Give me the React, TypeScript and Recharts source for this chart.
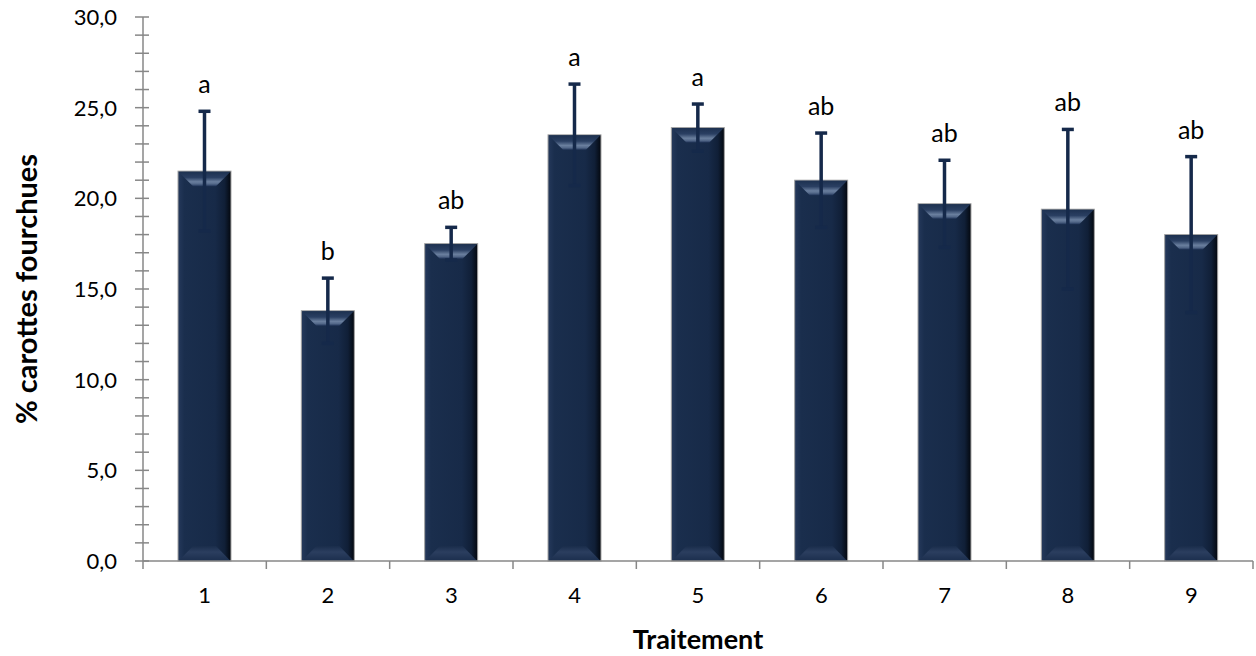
import React from 'react';
import { BarChart, Bar, XAxis, YAxis, ErrorBar, Label } from 'recharts';

const traitements = ['1', '2', '3', '4', '5', '6', '7', '8', '9'];
const fourchues = [21.5, 13.8, 17.5, 23.5, 23.9, 21.0, 19.7, 19.4, 18.0];
const ecartType = [3.3, 1.8, 0.9, 2.8, 1.3, 2.6, 2.4, 4.4, 4.3];
const lettres = ['a', 'b', 'ab', 'a', 'a', 'ab', 'ab', 'ab', 'ab'];
const yTicks = [0, 1, 2, 3, 4, 5, 6, 7, 8, 9, 10, 11, 12, 13, 14, 15, 16, 17, 18, 19, 20, 21, 22, 23, 24, 25, 26, 27, 28, 29, 30];

const data = traitements.map((t, i) => ({
  name: t,
  value: fourchues[i],
  sd: ecartType[i],
  letter: lettres[i],
}));

const W = 1256;
const H = 656;
const MARGIN = { top: 17, right: 3, bottom: 0, left: 0 };
const Y_AXIS_W = 143;
const X_AXIS_H = 95;
const PLOT_W = W - MARGIN.left - MARGIN.right - Y_AXIS_W;
const BAND = PLOT_W / traitements.length;

const AXIS_COLOR = '#878787';
const FONT = 'Lato, "Open Sans", sans-serif';
const BAR_DARK = '#172a48';

const BevelBar = (props: any) => {
  const { x, y, width, height, payload } = props;
  if (!height || height <= 0) return null;
  const pxPerUnit = height / payload.value;
  const capY = y - payload.sd * pxPerUnit;
  const b = 15;
  return (
    <g>
      <rect x={x} y={y} width={width} height={height} fill="url(#barBody)" stroke="#a3a3a3" strokeWidth={1} />
      <polygon
        points={`${x + 0.5},${y + 0.5} ${x + width - 0.5},${y + 0.5} ${x + width - b},${y + b} ${x + b},${y + b}`}
        fill="url(#barTop)"
      />
      <polygon
        points={`${x + 0.5},${y + height} ${x + width - 0.5},${y + height} ${x + width - b},${y + height - b} ${x + b},${y + height - b}`}
        fill="url(#barBottom)"
      />
      <text
        x={x + width / 2}
        y={capY - 18}
        textAnchor="middle"
        fontFamily={FONT}
        fontSize={25}
        fill="#000"
      >
        {payload.letter}
      </text>
    </g>
  );
};

const YTick = (props: any) => {
  const { x, y, payload } = props;
  const v = payload.value;
  const major = v % 5 === 0;
  return (
    <g>
      <line x1={x - 8} x2={x + 6} y1={y} y2={y} stroke={AXIS_COLOR} strokeWidth={1.5} />
      {major && (
        <text x={x - 26} y={y + 8} textAnchor="end" fontFamily={FONT} fontSize={22} fill="#000">
          {v.toFixed(1).replace('.', ',')}
        </text>
      )}
    </g>
  );
};

const XTick = (props: any) => {
  const { x, y, payload, index } = props;
  const last = index === traitements.length - 1;
  return (
    <g>
      <line x1={x - BAND / 2} x2={x - BAND / 2} y1={y} y2={y + 8} stroke={AXIS_COLOR} strokeWidth={1.5} />
      {last && <line x1={x + BAND / 2} x2={x + BAND / 2} y1={y} y2={y + 8} stroke={AXIS_COLOR} strokeWidth={1.5} />}
      <text x={x} y={y + 42} textAnchor="middle" fontFamily={FONT} fontSize={22} fill="#000">
        {payload.value}
      </text>
    </g>
  );
};

export default function App() {
  return (
    <div style={{ position: 'relative', width: W, height: H, background: '#fff' }}>
      <style>{'body{margin:0}'}</style>
      <svg width={0} height={0} style={{ position: 'absolute' }}>
        <defs>
          <linearGradient id="barBody" x1="0" y1="0" x2="1" y2="0">
            <stop offset="0%" stopColor="#25395b" />
            <stop offset="12%" stopColor="#1a2e4d" />
            <stop offset="70%" stopColor={BAR_DARK} />
            <stop offset="88%" stopColor="#101f37" />
            <stop offset="100%" stopColor="#03070e" />
          </linearGradient>
          <linearGradient id="barTop" x1="0" y1="0" x2="0" y2="1">
            <stop offset="0%" stopColor="#1d3150" />
            <stop offset="40%" stopColor="#2a3f62" />
            <stop offset="70%" stopColor="#6a7f9e" />
            <stop offset="85%" stopColor="#54698a" />
            <stop offset="100%" stopColor="#22365a" />
          </linearGradient>
          <linearGradient id="barBottom" x1="0" y1="1" x2="0" y2="0">
            <stop offset="0%" stopColor="#1b2e4d" />
            <stop offset="60%" stopColor="#2b3e5f" />
            <stop offset="100%" stopColor="#1a2d4b" />
          </linearGradient>
        </defs>
      </svg>
      <BarChart width={W} height={H} data={data} margin={MARGIN} barSize={53}>
        <XAxis
          dataKey="name"
          height={X_AXIS_H}
          axisLine={{ stroke: AXIS_COLOR, strokeWidth: 1.5 }}
          tickLine={false}
          tickSize={0}
          tickMargin={0}
          tick={<XTick />}
          interval={0}
        >
          <Label
            content={() => (
              <text
                x={MARGIN.left + Y_AXIS_W + PLOT_W / 2}
                y={H - 7}
                textAnchor="middle"
                fontFamily={FONT}
                fontSize={27}
                fontWeight="bold"
                fill="#000"
              >
                Traitement
              </text>
            )}
          />
        </XAxis>
        <YAxis
          width={Y_AXIS_W}
          domain={[0, 30]}
          ticks={yTicks}
          interval={0}
          axisLine={{ stroke: AXIS_COLOR, strokeWidth: 1.5 }}
          tickLine={false}
          tickSize={0}
          tickMargin={0}
          tick={<YTick />}
        >
          <Label
            content={() => (
              <text
                x={0}
                y={0}
                transform={`translate(37, ${MARGIN.top + (H - X_AXIS_H - MARGIN.top) / 2}) rotate(-90)`}
                textAnchor="middle"
                fontFamily={FONT}
                fontSize={29}
                fontWeight="bold"
                fill="#000"
              >
                % carottes fourchues
              </text>
            )}
          />
        </YAxis>
        <Bar dataKey="value" shape={<BevelBar />} isAnimationActive={false}>
          <ErrorBar dataKey="sd" width={6} strokeWidth={3.5} stroke="#15294a" direction="y" />
        </Bar>
      </BarChart>
    </div>
  );
}
